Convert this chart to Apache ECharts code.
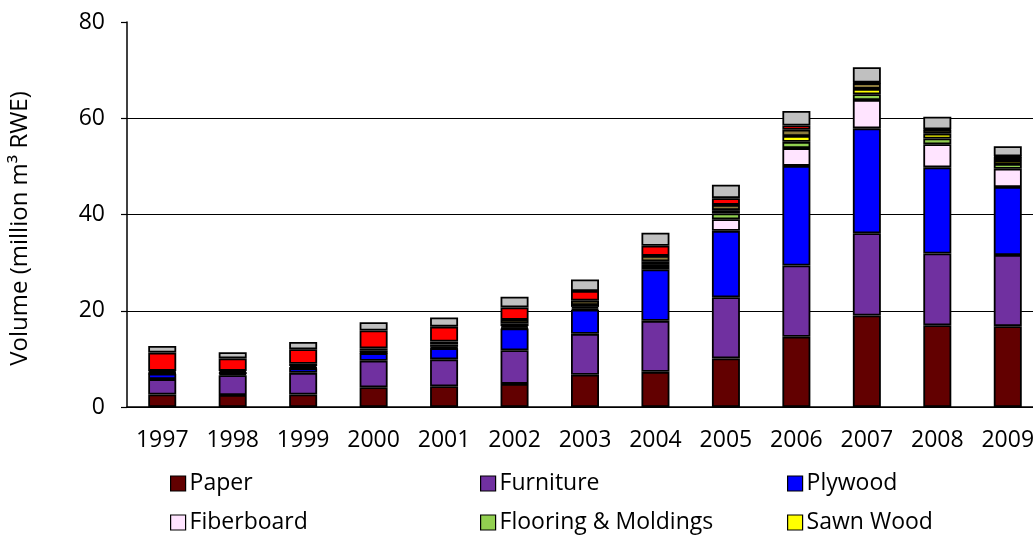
<!DOCTYPE html>
<html lang="en">
<head>
    <meta charset="UTF-8">
    <title>Volume by product</title>
    <script src="https://cdn.jsdelivr.net/npm/echarts@6/dist/echarts.min.js"></script>
    <style>
        html, body { margin: 0; padding: 0; background: #fff; overflow: hidden; }
        #chart { width: 1033px; height: 539px; }
    </style>
</head>
<body>
<div id="chart"></div>
<script type="text/javascript">
    // years on the x axis
    var years = ['1997', '1998', '1999', '2000', '2001', '2002', '2003', '2004', '2005', '2006', '2007', '2008', '2009'];

    // stacked values, million m3 RWE (bottom to top)
    var paper      = [2.6, 2.5, 2.6, 4.1, 4.3, 4.8, 6.7, 7.3, 10.1, 14.6, 19.0, 17.0, 16.8];
    var furniture  = [3.2, 4.1, 4.5, 5.5, 5.6, 7.0, 8.5, 10.6, 12.7, 14.8, 17.1, 14.9, 14.8];
    var plywood    = [1.1, 0.3, 0.9, 1.6, 2.3, 4.5, 5.0, 10.7, 13.8, 20.7, 21.8, 17.9, 14.1];
    var fiberboard = [0.1, 0.1, 0.1, 0.1, 0.1, 0.2, 0.3, 0.7, 2.4, 3.7, 5.9, 4.8, 3.8];
    var flooring   = [0.1, 0.1, 0.1, 0.1, 0.2, 0.3, 0.3, 0.4, 1.2, 1.3, 1.2, 1.2, 1.0];
    var sawnWood   = [0.2, 0.1, 0.3, 0.4, 0.5, 0.5, 0.4, 0.6, 0.7, 1.2, 1.1, 1.0, 0.8];
    var veneer     = [0.2, 0.3, 0.5, 0.4, 0.6, 0.8, 0.9, 1.1, 1.1, 1.3, 1.2, 0.8, 0.7];
    var logs       = [3.8, 2.6, 3.0, 3.7, 3.1, 2.6, 2.0, 2.1, 1.4, 0.9, 0.1, 0.1, 0.1];
    var other      = [1.4, 1.3, 1.5, 1.7, 1.9, 2.2, 2.4, 2.7, 2.8, 3.0, 3.2, 2.6, 2.1];

    var yTicks = [0, 20, 40, 60, 80];

    var seriesDefs = [
        ['Paper', '#620000', paper],
        ['Furniture', '#7030A0', furniture],
        ['Plywood', '#0000FF', plywood],
        ['Fiberboard', '#FFE4FF', fiberboard],
        ['Flooring & Moldings', '#92D050', flooring],
        ['Sawn Wood', '#FFFF00', sawnWood],
        ['Veneer', '#8C7B3C', veneer],
        ['Logs', '#FF0000', logs],
        ['Other', '#C0C0C0', other]
    ];

    var font = '"Open Sans", sans-serif';

    var series = [];
    for (var i = 0; i < seriesDefs.length; i++) {
        series.push({
            name: seriesDefs[i][0],
            type: 'bar',
            stack: 'total',
            barWidth: 28,
            data: seriesDefs[i][2],
            itemStyle: {
                color: seriesDefs[i][1],
                borderColor: '#000',
                borderWidth: 1.8
            }
        });
    }

    // legend: 3 columns x 2 rows, one component per entry
    var legendPos = [
        ['Paper', 170, 472],
        ['Furniture', 480, 472],
        ['Plywood', 787, 472],
        ['Fiberboard', 170, 511],
        ['Flooring & Moldings', 480, 511],
        ['Sawn Wood', 787, 511]
    ];
    var legends = legendPos.map(function (p) {
        return {
            data: [p[0]],
            left: p[1],
            top: p[2],
            padding: 0,
            icon: 'rect',
            itemWidth: 15,
            itemHeight: 15,
            itemGap: 0,
            selectedMode: false,
            itemStyle: { borderColor: '#000', borderWidth: 1.2 },
            textStyle: { color: '#000', fontSize: 23, fontFamily: font, padding: [0, 0, 0, -1] }
        };
    });

    var myChart = echarts.init(document.getElementById('chart'));
    myChart.setOption({
        animation: false,
        textStyle: { fontFamily: font },
        // plot runs past the right edge of the picture, as in the source
        grid: { left: 127, width: 916, top: 22, height: 385, outerBoundsMode: 'none', containLabel: false },
        legend: legends,
        xAxis: {
            type: 'category',
            data: years,
            axisLine: { lineStyle: { color: '#000', width: 1.5 } },
            axisTick: { length: 6, lineStyle: { color: '#000', width: 1.2 } },
            axisLabel: { color: '#000', fontSize: 23, fontFamily: font, margin: 22 }
        },
        yAxis: {
            type: 'value',
            min: yTicks[0],
            max: yTicks[yTicks.length - 1],
            interval: 20,
            name: 'Volume (million m\u00b3 RWE)',
            nameLocation: 'middle',
            nameGap: 95,
            nameTextStyle: { color: '#000', fontSize: 24, fontFamily: font, padding: [0, 28, 0, 0] },
            axisLine: { show: true, lineStyle: { color: '#000', width: 1.5 } },
            axisTick: { show: true, length: 6, lineStyle: { color: '#000', width: 1.2 } },
            axisLabel: { color: '#000', fontSize: 23, fontFamily: font, margin: 22 },
            splitLine: {
                show: true,
                lineStyle: { color: ['#000', '#000', '#000', '#000', 'rgba(0,0,0,0)'], width: 1.2 }
            }
        },
        series: series
    });
</script>
</body>
</html>
